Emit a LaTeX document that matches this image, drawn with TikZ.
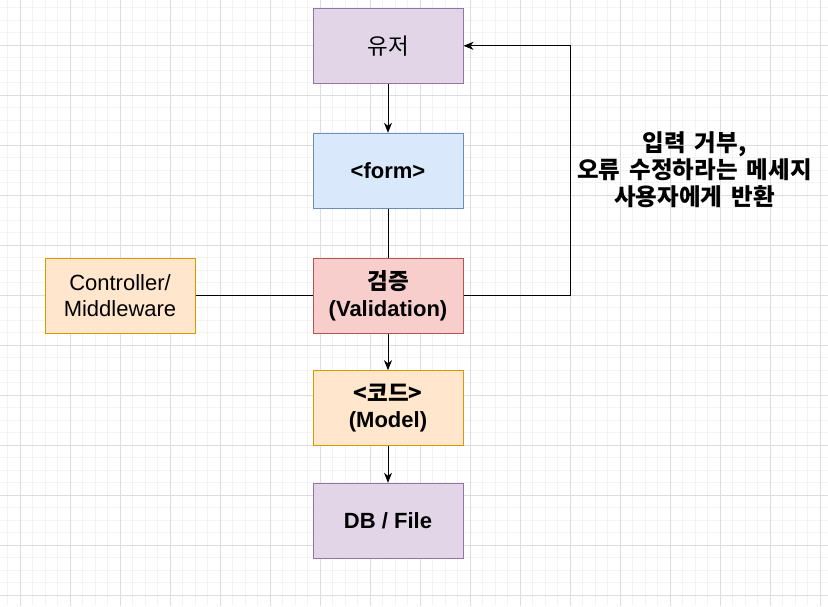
\documentclass[tikz,border=0pt]{standalone}
\usepackage{fontspec}
\setmainfont{Liberation Sans}
\newfontfamily\kr{Noto Sans CJK KR}
\newfontfamily\krw[WordSpace=1.7]{Noto Sans CJK KR}
\usetikzlibrary{arrows.meta}
\definecolor{gridminor}{HTML}{F3F3F3}
\definecolor{gridmajor}{HTML}{DDDDDD}
\definecolor{purF}{HTML}{E1D5E7}\definecolor{purD}{HTML}{9673A6}
\definecolor{bluF}{HTML}{DAE8FC}\definecolor{bluD}{HTML}{6C8EBF}
\definecolor{redF}{HTML}{F8CECC}\definecolor{redD}{HTML}{B85450}
\definecolor{orgF}{HTML}{FFE6CC}\definecolor{orgD}{HTML}{D79B00}
\begin{document}
\begin{tikzpicture}[x=1pt,y=-1pt,
  box/.style={draw, line width=1pt, minimum width=150pt, minimum height=75pt,
    inner sep=0pt, align=center, font=\fontsize{22}{26.5}\selectfont},
  purbox/.style={box, fill=purF, draw=purD},
  blubox/.style={box, fill=bluF, draw=bluD},
  redbox/.style={box, fill=redF, draw=redD},
  orgbox/.style={box, fill=orgF, draw=orgD},
  conn/.style={line width=1pt, black},
  arr/.style={conn, -{Stealth[length=10pt,width=8pt,inset=3pt]}},
  krsize/.style={},
  lbl/.style={align=center, inner sep=0pt, font=\fontsize{23.5}{26.8}\selectfont\krw\bfseries}
]
\useasboundingbox (0,0) rectangle (828,606);
\fill[white] (0,0) rectangle (828,606);
% grid
\foreach \i in {0,...,65} {
  \pgfmathsetmacro\xx{7.8+12.5*\i}
  \draw[gridminor, line width=1pt] (\xx,0) -- (\xx,606);
}
\foreach \i in {0,...,47} {
  \pgfmathsetmacro\yy{7.8+12.5*\i}
  \draw[gridminor, line width=1pt] (0,\yy) -- (828,\yy);
}
\foreach \i in {0,...,16} {
  \pgfmathsetmacro\xx{20.3+50*\i}
  \draw[gridmajor, line width=1pt] (\xx,0) -- (\xx,606);
}
\foreach \i in {0,...,11} {
  \pgfmathsetmacro\yy{45.3+50*\i}
  \draw[gridmajor, line width=1pt] (0,\yy) -- (828,\yy);
}
% nodes
\node[purbox] (user) at (388,45.8) {\kr\fontsize{22.5}{26.5}\selectfont 유저};
\node[blubox] (form) at (388,170.8) {\bfseries <form>};
\node[redbox] (valid) at (388,295.8) {\kr\bfseries\fontsize{22.5}{26.5}\selectfont 검증\\\bfseries (Validation)};
\node[orgbox] (model) at (388,408.2) {\kr\bfseries\fontsize{22.5}{26.5}\selectfont <코드>\\\bfseries (Model)};
\node[purbox] (db) at (388,520.8) {\bfseries DB / File};
\node[orgbox] (ctrl) at (120,295.8) {Controller/\\Middleware};
\node[lbl] (note) at (694.5,170) {입력 거부,\\오류 수정하라는 메세지\\사용자에게 반환};
\coordinate (turn) at (570,45.8);
% connectors
\draw[arr] (user) -- (form);
\draw[conn] (form) -- (valid);
\draw[arr] (valid) -- (model);
\draw[arr] (model) -- (db);
\draw[conn] (ctrl) -- (valid);
\draw[arr] (valid.east) -| (turn) -- (user.east);
\end{tikzpicture}
\end{document}
